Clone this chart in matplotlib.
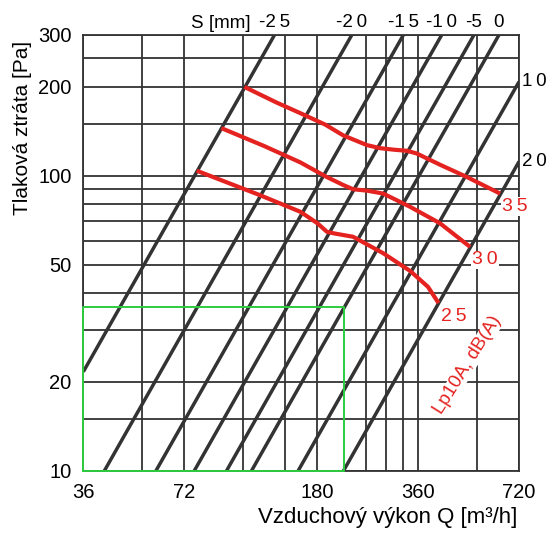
import numpy as np
import matplotlib.pyplot as plt
from matplotlib.ticker import NullLocator

plt.rcParams['font.family'] = ['Liberation Sans', 'DejaVu Sans']

# grid / ticks
x_grid = [36, 54, 72, 108, 144, 180, 252, 288, 324, 360, 540, 720]
x_labels = [36, 72, 180, 360, 720]
y_grid = [10, 15, 20, 30, 40, 50, 60, 70, 80, 90, 100, 150, 200, 250, 300]
y_labels = [10, 20, 50, 100, 200, 300]

# damper position S [mm] and airflow Q [m3/h] where each line reaches 300 Pa
s_values = [-25, -20, -15, -10, -5, 0, 10, 20]
q_at_300 = [134, 228, 325, 423, 528, 627, 864, 1180]

# noise curves Lp10A, dB(A)
noise_levels = [35, 30, 25]
q_35 = [109, 136, 160, 190, 215, 253, 277, 305, 333, 356, 418, 503, 632]
p_35 = [200, 177, 163, 149, 137, 127, 124, 122.5, 121.5, 119, 109, 99, 87]
q_30 = [93, 125, 160, 192, 215, 230, 253, 283, 340, 418, 514]
p_30 = [145, 126, 111, 99, 93, 90, 89, 87, 78.5, 69, 57.4]
q_25 = [78.5, 121, 160, 180, 192, 201, 230, 283, 341, 385, 414]
p_25 = [104, 86, 75.5, 69, 64.6, 63.8, 62.1, 54.6, 47.5, 42, 37]

# working area
green_q = [36, 216]
green_p = [10, 36]

dark = '#333333'
red = '#e42320'
green = '#2ecc40'


def spaced(txt):
    out = txt[0]
    for a, b in zip(txt[:-1], txt[1:]):
        if a.isdigit() and b.isdigit():
            out += '\u2009'
        out += b
    return out


fig = plt.figure(figsize=(5.5, 5.35), dpi=100)
ax = fig.add_axes([0.1515, 0.1202, 0.7922, 0.8144])
ax.set_xscale('log')
ax.set_yscale('log')

ax.set_xticks(x_grid, [str(v) if v in x_labels else '' for v in x_grid])
ax.set_yticks(y_grid, [str(v) if v in y_labels else '' for v in y_grid])
ax.xaxis.set_minor_locator(NullLocator())
ax.yaxis.set_minor_locator(NullLocator())
ax.set_xlim(36, 720)
ax.set_ylim(10, 300)
ax.grid(True, color=dark, lw=1.3, zorder=1)
ax.set_axisbelow(True)
ax.tick_params(axis='both', length=0, labelsize=14.5)
ax.tick_params(axis='x', pad=9)
ax.tick_params(axis='y', pad=8.5)
for sp in ax.spines.values():
    sp.set_color(dark)
    sp.set_linewidth(1.3)

# damper lines  dp ~ Q^2
q = np.geomspace(36, 720, 300)
for s, q3 in zip(s_values, q_at_300):
    p = 300 * (q / q3) ** 2
    ax.plot(q, p, color=dark, lw=2.5, solid_capstyle='butt', zorder=3)
    if q3 <= 720:
        ax.annotate(spaced(str(s)), (q3, 300), xytext=(0, 12), textcoords='offset pixels',
                    ha='center', va='center', fontsize=13.5, annotation_clip=False)
    else:
        p_end = 300 * (720 / q3) ** 2
        ax.annotate(spaced(str(s)), (720, p_end), xytext=(3, 0), textcoords='offset pixels',
                    ha='left', va='center', fontsize=13.5, annotation_clip=False)

ax.text(0.385, 1.0275, 'S [mm]', transform=ax.transAxes, ha='right', va='center', fontsize=13.5)

# noise curves
for lvl, qq, pp in zip(noise_levels, [q_35, q_30, q_25], [p_35, p_30, p_25]):
    ax.plot(qq, pp, color=red, lw=3, solid_capstyle='butt', solid_joinstyle='round', zorder=4)
    ax.annotate(spaced(str(lvl)), (qq[-1], pp[-1]), xytext=(15, -13), textcoords='offset pixels',
                ha='center', va='center', color=red, fontsize=14, zorder=5,
                bbox=dict(fc='white', ec='none', pad=0.6))

ax.text(505, 22.8, 'Lp10A, dB(A)', rotation=58, rotation_mode='anchor', ha='center', va='center',
        color=red, fontsize=13.5, zorder=5, bbox=dict(fc='white', ec='none', pad=0.1))

# working area rectangle
ax.plot([green_q[0], green_q[1], green_q[1], green_q[0], green_q[0]],
        [green_p[0], green_p[0], green_p[1], green_p[1], green_p[0]],
        color=green, lw=1.4, zorder=6, clip_on=False)

ax.text(0.9954, -0.12, 'Vzduchový výkon Q [m³/h]', transform=ax.transAxes,
        ha='right', va='baseline', fontsize=16)
ax.text(-0.1407, 0.7877, 'Tlaková ztráta [Pa]', transform=ax.transAxes,
        rotation=90, ha='center', va='center', fontsize=15)

fig.savefig('out.png', dpi=100)
